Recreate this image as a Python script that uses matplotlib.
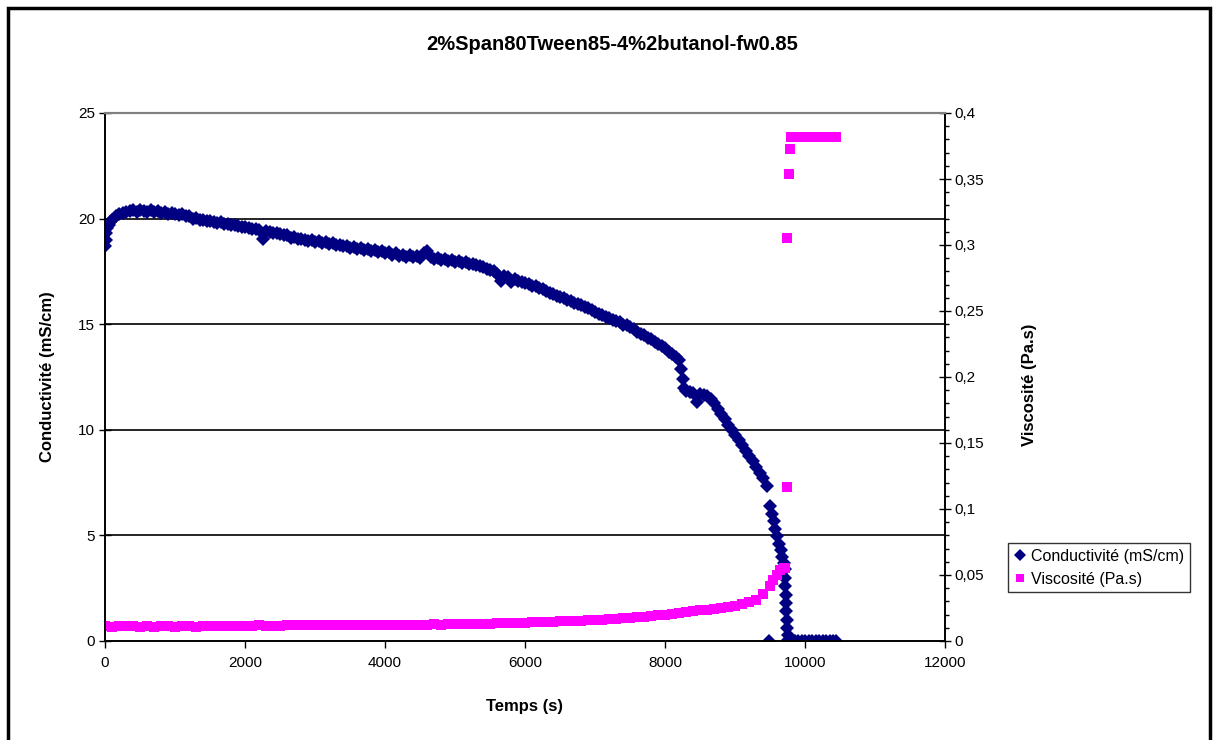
import matplotlib
matplotlib.use("Agg")
import matplotlib.pyplot as plt
from matplotlib.patches import Rectangle

plt.rcParams['font.family'] = ['Liberation Sans', 'DejaVu Sans']

# Conductivité (mS/cm) en fonction du temps (s)
t_cond = [0, 10, 20, 35, 50, 75, 100, 150, 200, 250, 300, 350, 400, 450,
          500, 550, 600, 650, 700, 750, 800, 850, 900, 950,
          1000, 1050, 1100, 1150, 1200, 1250, 1300, 1350, 1400, 1450,
          1500, 1550, 1600, 1650, 1700, 1750, 1800, 1850, 1900, 1950,
          2000, 2050, 2100, 2150, 2200, 2250, 2300, 2350, 2400, 2450,
          2500, 2550, 2600, 2650, 2700, 2750, 2800, 2850, 2900, 2950,
          3000, 3050, 3100, 3150, 3200, 3250, 3300, 3350, 3400, 3450,
          3500, 3550, 3600, 3650, 3700, 3750, 3800, 3850, 3900, 3950,
          4000, 4050, 4100, 4150, 4200, 4250, 4300, 4350, 4400, 4450,
          4500, 4550, 4600, 4650, 4700, 4750, 4800, 4850, 4900, 4950,
          5000, 5050, 5100, 5150, 5200, 5250, 5300, 5350, 5400, 5450,
          5500, 5550, 5600, 5650, 5700, 5750, 5800, 5850, 5900, 5950,
          6000, 6050, 6100, 6150, 6200, 6250, 6300, 6350, 6400, 6450,
          6500, 6550, 6600, 6650, 6700, 6750, 6800, 6850, 6900, 6950,
          7000, 7050, 7100, 7150, 7200, 7250, 7300, 7350, 7400, 7450,
          7500, 7550, 7600, 7650, 7700, 7750, 7800, 7850, 7900, 7950,
          8000, 8050, 8100, 8150, 8200, 8225, 8250, 8275, 8300, 8350,
          8400, 8450, 8500, 8550, 8600, 8650, 8700, 8750, 8800, 8850,
          8900, 8950, 9000, 9050, 9100, 9150, 9200, 9250, 9300, 9350,
          9400, 9450, 9480, 9500, 9525, 9550, 9575, 9600, 9625, 9650, 9675,
          9700, 9710, 9715, 9720, 9725, 9730, 9735, 9740, 9745, 9750, 9760,
          9800, 9850, 9900, 9950, 10000, 10050, 10100, 10150, 10200,
          10250, 10300, 10350, 10400, 10440]
cond = [18.7, 19.0, 19.3, 19.55, 19.7, 19.85, 19.95, 20.1, 20.2, 20.25, 20.3, 20.35, 20.4, 20.3,
        20.4, 20.35, 20.3, 20.4, 20.3, 20.35, 20.25, 20.3, 20.2, 20.25,
        20.2, 20.15, 20.2, 20.1, 20.1, 20.0, 20.05, 19.95, 19.95, 19.9,
        19.9, 19.85, 19.8, 19.85, 19.75, 19.75, 19.7, 19.7, 19.65, 19.6,
        19.6, 19.55, 19.5, 19.5, 19.45, 19.05, 19.4, 19.35, 19.3, 19.3,
        19.25, 19.2, 19.2, 19.1, 19.15, 19.05, 19.05, 19.0, 18.95, 19.0,
        18.9, 18.95, 18.85, 18.9, 18.8, 18.85, 18.75, 18.75, 18.7, 18.7,
        18.6, 18.65, 18.55, 18.6, 18.5, 18.55, 18.45, 18.5, 18.4, 18.45,
        18.35, 18.4, 18.3, 18.35, 18.25, 18.3, 18.2, 18.3, 18.2, 18.25,
        18.15, 18.35, 18.45, 18.2, 18.1, 18.15, 18.05, 18.1, 18.0, 18.05,
        17.95, 18.0, 17.9, 17.95, 17.85, 17.85, 17.8, 17.75, 17.7, 17.6,
        17.55, 17.5, 17.4, 17.05, 17.3, 17.25, 17.0, 17.15, 17.05, 17.0,
        16.95, 16.9, 16.8, 16.8, 16.7, 16.65, 16.55, 16.5, 16.45, 16.35,
        16.3, 16.25, 16.15, 16.1, 16.0, 15.95, 15.9, 15.8, 15.75, 15.65,
        15.6, 15.5, 15.45, 15.35, 15.3, 15.2, 15.15, 15.1, 14.95, 14.95,
        14.85, 14.75, 14.65, 14.55, 14.5, 14.35, 14.3, 14.15, 14.05, 13.95,
        13.85, 13.7, 13.6, 13.45, 13.3, 12.9, 12.4, 12.0, 11.85, 11.8,
        11.75, 11.3, 11.7, 11.65, 11.6, 11.45, 11.25, 11.0, 10.75, 10.5,
        10.25, 10.0, 9.75, 9.5, 9.3, 9.0, 8.75, 8.5, 8.25, 7.95,
        7.7, 7.35, 0.0, 6.4, 6.0, 5.7, 5.3, 4.95, 4.6, 4.3, 4.0,
        3.7, 3.4, 3.0, 2.6, 2.2, 1.8, 1.4, 1.0, 0.6, 0.3, 0.05,
        0.0, 0.0, 0.0, 0.0, 0.0, 0.0, 0.0, 0.0, 0.0,
        0.0, 0.0, 0.0, 0.0, 0.0]

# Viscosité (Pa.s) en fonction du temps (s)
t_visc = [0, 100, 200, 300, 400, 500, 600, 700, 800, 900,
          1000, 1100, 1200, 1300, 1400, 1500, 1600, 1700, 1800, 1900,
          2000, 2100, 2200, 2300, 2400, 2500, 2600, 2700, 2800, 2900,
          3000, 3100, 3200, 3300, 3400, 3500, 3600, 3700, 3800, 3900,
          4000, 4100, 4200, 4300, 4400, 4500, 4600, 4700, 4800, 4900,
          5000, 5100, 5200, 5300, 5400, 5500, 5600, 5700, 5800, 5900,
          6000, 6100, 6200, 6300, 6400, 6500, 6600, 6700, 6800, 6900,
          7000, 7100, 7200, 7300, 7400, 7500, 7600, 7700, 7800, 7900,
          8000, 8100, 8200, 8300, 8400, 8500, 8600, 8700, 8800, 8900,
          9000, 9100, 9200, 9300, 9400, 9500, 9550, 9600, 9650, 9700, 9720,
          9745, 9750, 9770, 9780,
          9800, 9850, 9900, 9950, 10000, 10050, 10100, 10150, 10200,
          10250, 10300, 10350, 10400, 10440]
visc = [0.0112, 0.0108, 0.0113, 0.0110, 0.0112, 0.0109, 0.0111, 0.0108, 0.0112, 0.0110,
        0.0107, 0.0112, 0.0110, 0.0108, 0.0112, 0.0113, 0.0111, 0.0113, 0.0114, 0.0112,
        0.0114, 0.0116, 0.0120, 0.0115, 0.0116, 0.0117, 0.0119, 0.0118, 0.0120, 0.0118,
        0.0120, 0.0122, 0.0119, 0.0121, 0.0123, 0.0120, 0.0122, 0.0124, 0.0121, 0.0123,
        0.0124, 0.0121, 0.0124, 0.0125, 0.0122, 0.0125, 0.0122, 0.0126, 0.0124, 0.0127,
        0.0128, 0.0127, 0.0129, 0.0130, 0.0131, 0.0132, 0.0136, 0.0136, 0.0137, 0.0139,
        0.0140, 0.0141, 0.0143, 0.0144, 0.0146, 0.0148, 0.0150, 0.0152, 0.0154, 0.0157,
        0.0160, 0.0162, 0.0165, 0.0168, 0.0172, 0.0176, 0.0180, 0.0185, 0.0190, 0.0196,
        0.0200, 0.0205, 0.0212, 0.0220, 0.0228, 0.0232, 0.0238, 0.0242, 0.0250, 0.0258,
        0.0268, 0.0280, 0.0295, 0.0312, 0.0355, 0.0420, 0.0460, 0.0500, 0.0540, 0.0550, 0.0550,
        0.117, 0.305, 0.354, 0.373,
        0.382, 0.382, 0.382, 0.382, 0.382, 0.382, 0.382, 0.382, 0.382,
        0.382, 0.382, 0.382, 0.382, 0.382]

left_ticks = [0, 5, 10, 15, 20, 25]
right_ticks = [0, 0.05, 0.1, 0.15, 0.2, 0.25, 0.3, 0.35, 0.4]
right_labels = ['0', '0,05', '0,1', '0,15', '0,2', '0,25', '0,3', '0,35', '0,4']
x_ticks = [0, 2000, 4000, 6000, 8000, 10000, 12000]

navy = '#000080'
magenta = '#FF00FF'

fig = plt.figure(figsize=(12.18, 7.40), dpi=100)
ax = fig.add_axes([105/1218, 1 - 641/740, 840/1218, 528/740])
ax2 = ax.twinx()

# cadre du graphique
fig.patches.append(Rectangle((8/1218, -0.05), 1202/1218, 1 - 8/740 + 0.05,
                             transform=fig.transFigure, fill=False,
                             edgecolor='black', linewidth=2.5))

h1, = ax.plot(t_cond, cond, linestyle='none', marker='D', markersize=7.5,
              color=navy, markeredgewidth=0, label='Conductivité (mS/cm)')
h2, = ax2.plot(t_visc, visc, linestyle='none', marker='s', markersize=7.5,
               color=magenta, markeredgewidth=0, label='Viscosité (Pa.s)')

ax.set_xlim(0, 12000)
ax.set_ylim(0, 25)
ax2.set_ylim(0, 0.4)

ax.set_xticks(x_ticks)
ax.set_yticks(left_ticks)
ax2.set_yticks(right_ticks)
ax2.set_yticklabels(right_labels)
ax2.set_yticks([i / 100 for i in range(41)], minor=True)

for y in [5, 10, 15, 20]:
    ax.axhline(y, color='black', linewidth=1.2, zorder=0)

ax.tick_params(axis='y', direction='inout', length=8, width=1, labelsize=11, pad=3)
ax.tick_params(axis='x', direction='out', length=5, width=1, labelsize=11, pad=6)
ax2.tick_params(axis='y', which='major', direction='inout', length=8, width=1,
                labelsize=11, pad=3)
ax2.tick_params(axis='y', which='minor', direction='out', length=3, width=1)

for a in (ax, ax2):
    a.spines['top'].set_color('#808080')
    a.spines['top'].set_linewidth(1.5)
    for s in ('left', 'right', 'bottom'):
        a.spines[s].set_linewidth(1.2)

ax.set_xlabel('Temps (s)', fontsize=12, fontweight='bold')
ax.xaxis.set_label_coords(0.5, -0.11)
ax.set_ylabel('Conductivité (mS/cm)', fontsize=12, fontweight='bold')
ax.yaxis.set_label_coords(-0.06, 0.5)
ax2.set_ylabel('Viscosité (Pa.s)', fontsize=12, fontweight='bold')
ax2.yaxis.set_label_coords(1.092, 0.485)

fig.text(612/1218, 1 - 45/740, '2%Span80Tween85-4%2butanol-fw0.85',
         ha='center', va='center', fontsize=14.5, fontweight='bold')

leg = fig.legend(handles=[h1, h2], loc='upper left',
                 bbox_to_anchor=(1008/1218, 1 - 543/740), fontsize=11.5,
                 frameon=True, fancybox=False, handlelength=0.8,
                 handletextpad=0.3, borderpad=0.35, labelspacing=0.5,
                 borderaxespad=0, markerscale=0.85)
leg.get_frame().set_edgecolor('black')
leg.get_frame().set_linewidth(1)

fig.savefig('out.png', dpi=100)
